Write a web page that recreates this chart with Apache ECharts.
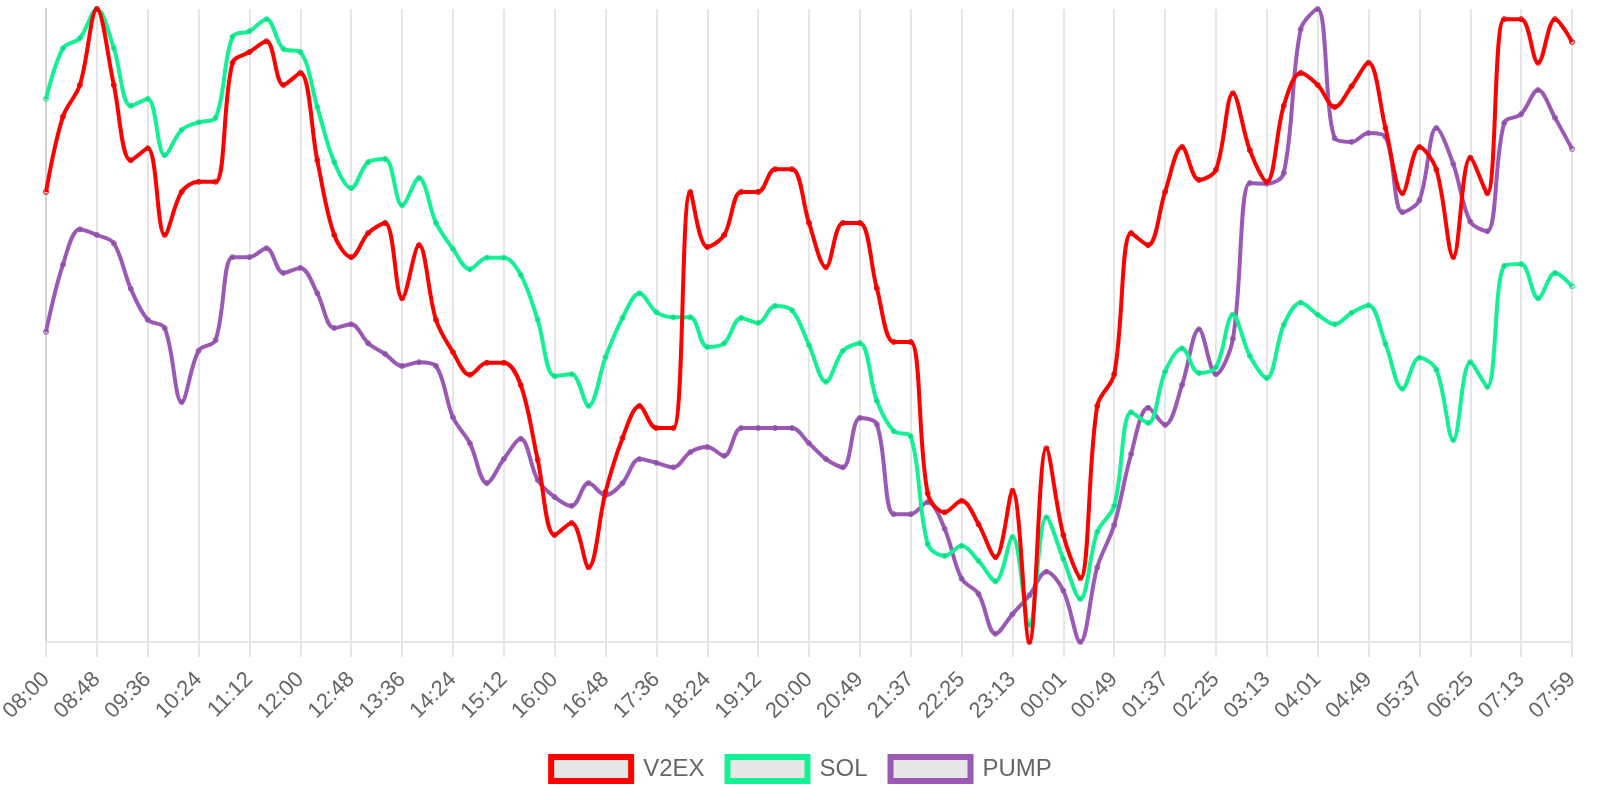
<!DOCTYPE html>
<html>
<head>
<meta charset="utf-8">
<title>V2EX / SOL / PUMP</title>
<script src="https://cdn.jsdelivr.net/npm/echarts@6/dist/echarts.min.js"></script>
<style>
    html, body { margin: 0; padding: 0; background: #fff; }
    #chart { width: 1600px; height: 800px; }
</style>
</head>
<body>
<div id="chart"></div>
<script>
    // time of every sample (about 16 min apart), a label is shown every 3rd one
    const times = [
        '08:00', '08:16', '08:32', '08:48', '09:04', '09:20', '09:36', '09:52', '10:08',
        '10:24', '10:40', '10:56', '11:12', '11:28', '11:44', '12:00', '12:16', '12:32',
        '12:48', '13:04', '13:20', '13:36', '13:52', '14:08', '14:24', '14:40', '14:56',
        '15:12', '15:28', '15:44', '16:00', '16:16', '16:32', '16:48', '17:04', '17:20',
        '17:36', '17:52', '18:08', '18:24', '18:40', '18:56', '19:12', '19:28', '19:44',
        '20:00', '20:16', '20:32', '20:49', '21:05', '21:21', '21:37', '21:53', '22:09',
        '22:25', '22:41', '22:57', '23:13', '23:29', '23:45', '00:01', '00:17', '00:33',
        '00:49', '01:05', '01:21', '01:37', '01:53', '02:09', '02:25', '02:41', '02:57',
        '03:13', '03:29', '03:45', '04:01', '04:17', '04:33', '04:49', '05:05', '05:21',
        '05:37', '05:53', '06:09', '06:25', '06:41', '06:57', '07:13', '07:28', '07:44',
        '07:59'
    ]

    // normalised values, 0 = lowest, 100 = highest
    const v2ex = [
        71.1, 83.0, 88.0, 100, 88.0, 76.1, 78.0, 64.3, 71.1,
        72.7, 72.7, 91.5, 93.2, 94.9, 88.0, 89.9, 76.1, 64.3,
        60.8, 64.6, 66.2, 54.3, 62.7, 50.9, 45.8, 42.2, 44.1,
        44.1, 40.6, 28.8, 16.9, 18.8, 11.8, 23.7, 32.2, 37.3,
        33.8, 33.8, 71.1, 62.4, 64.3, 71.1, 71.1, 74.7, 74.7,
        66.2, 59.2, 66.2, 66.2, 55.9, 47.4, 47.4, 23.5, 20.5,
        22.3, 18.6, 13.4, 23.9, 0, 30.6, 16.9, 10.1, 37.3,
        42.3, 64.6, 62.7, 71.1, 78.2, 73.0, 74.6, 86.7, 77.7,
        72.7, 84.7, 89.9, 88.0, 84.5, 87.8, 91.5, 81.2, 70.9,
        78.2, 74.6, 60.8, 76.5, 70.9, 98.4, 98.4, 91.5, 98.4,
        94.8
    ]

    const sol = [
        85.8, 93.8, 95.4, 100, 93.8, 84.7, 85.8, 76.9, 80.9,
        82.1, 82.8, 95.6, 96.5, 98.4, 93.7, 93.2, 84.5, 75.8,
        71.7, 75.8, 76.3, 69.0, 73.3, 66.2, 62.1, 58.9, 60.7,
        60.7, 58.0, 50.9, 42.0, 42.3, 37.3, 45.0, 51.2, 55.1,
        52.1, 51.3, 51.3, 46.6, 47.2, 51.2, 50.4, 53.1, 52.4,
        46.9, 41.1, 46.0, 47.2, 38.1, 33.3, 32.5, 15.5, 13.6,
        15.2, 12.8, 9.6, 16.6, 2.7, 19.7, 13.1, 6.8, 17.4,
        21.5, 36.3, 34.6, 42.7, 46.4, 42.5, 43.4, 51.7, 45.2,
        41.7, 50.1, 53.6, 51.7, 50.2, 52.0, 53.2, 47.1, 40.0,
        44.9, 43.0, 31.9, 44.2, 40.3, 59.4, 59.7, 54.3, 58.3,
        56.2
    ]

    const pump = [
        49.0, 59.6, 65.2, 64.3, 63.0, 55.8, 50.9, 49.6, 37.9,
        46.0, 47.7, 60.8, 60.8, 62.2, 58.3, 59.1, 55.1, 49.6,
        50.2, 47.2, 45.5, 43.6, 44.2, 43.6, 35.5, 31.4, 25.1,
        28.9, 32.1, 25.6, 22.9, 21.5, 25.1, 23.2, 25.1, 28.9,
        28.3, 27.6, 30.0, 30.8, 29.4, 33.8, 33.8, 33.8, 33.8,
        31.4, 28.9, 27.6, 35.4, 34.4, 20.2, 20.2, 22.1, 17.9,
        10.0, 7.6, 1.3, 4.4, 7.4, 11.1, 8.1, 0, 11.8,
        18.5, 29.7, 37.0, 34.3, 40.6, 49.4, 42.3, 47.9, 72.5,
        72.4, 74.1, 96.8, 100, 79.6, 79.0, 80.4, 79.8, 67.9,
        69.8, 81.2, 75.5, 66.4, 64.9, 82.0, 83.4, 87.2, 82.8,
        77.9
    ]

    const names = ['V2EX', 'SOL', 'PUMP']
    const colorList = ['#ff0000', '#14f195', '#9b59b6']
    const fontFamily = '"Liberation Sans", Arial, sans-serif'

    let makeSeries = (name, data, color, z) => {
        return {
            name: name,
            type: 'line',
            data: data,
            z: z,
            smooth: 0.35,
            symbol: 'circle',
            symbolSize: 5,
            showSymbol: true,
            showAllSymbol: true,
            color: color,
            lineStyle: {
                color: color,
                width: 4
            },
            itemStyle: {
                color: 'rgba(0,0,0,0.1)',
                borderColor: color,
                borderWidth: 1
            },
            emphasis: { disabled: true }
        }
    }

    let chart = echarts.init(document.getElementById('chart'))

    const option = {
        animation: false,
        backgroundColor: '#fff',
        textStyle: { fontFamily: fontFamily },
        grid: {
            left: 46,
            right: 28,
            top: 9,
            bottom: 158,
            containLabel: false,
            outerBoundsMode: 'none'
        },
        legend: {
            left: 'center',
            top: 749,
            icon: 'rect',
            itemWidth: 80,
            itemHeight: 24,
            itemGap: 20,
            textStyle: {
                fontSize: 24,
                color: '#666',
                padding: [0, 0, 0, 7],
                fontFamily: fontFamily
            },
            data: names.map((n, i) => ({
                name: n,
                itemStyle: {
                    color: '#e6e6e6',
                    borderColor: colorList[i],
                    borderWidth: 6
                }
            }))
        },
        xAxis: {
            type: 'category',
            boundaryGap: false,
            data: times,
            axisLine: {
                lineStyle: { color: '#e6e6e6', width: 2 }
            },
            axisTick: {
                interval: 2,
                length: 15,
                lineStyle: { color: '#e6e6e6', width: 2 }
            },
            splitLine: {
                show: true,
                interval: 2,
                lineStyle: { color: '#e6e6e6', width: 2 }
            },
            axisLabel: {
                interval: 2,
                rotate: 45,
                margin: 34,
                fontSize: 22,
                color: '#666',
                fontFamily: fontFamily
            }
        },
        yAxis: {
            type: 'value',
            min: 0,
            max: 100,
            axisLine: {
                show: true,
                lineStyle: { color: '#d2d2d2', width: 2 }
            },
            axisTick: { show: false },
            axisLabel: { show: false },
            splitLine: { show: false }
        },
        series: [
            makeSeries('V2EX', v2ex, colorList[0], 4),
            makeSeries('SOL', sol, colorList[1], 3),
            makeSeries('PUMP', pump, colorList[2], 2)
        ]
    }

    chart.setOption(option)
    window.onresize = () => {
        chart.resize()
    }
</script>
</body>
</html>
